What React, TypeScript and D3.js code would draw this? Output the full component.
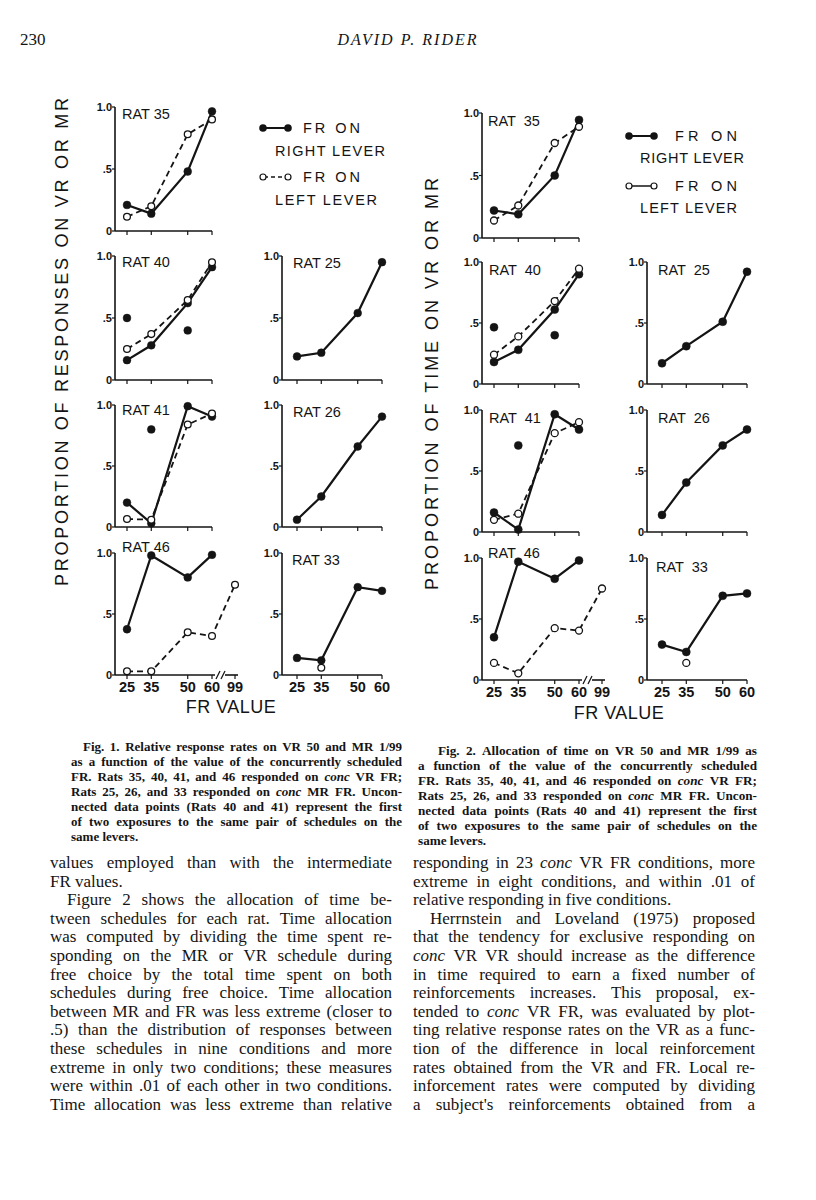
import React from 'react';
import * as d3 from 'd3';

// ---------- DATA ----------
const frValues = [25, 35, 50, 60];
const frValuesMR = [25, 35, 50, 60, 99];
const yTickValues = [0, 0.5, 1.0];
const yTickLabels = ['0', '.5', '1.0'];

// Fig. 1 — proportion of responses on VR or MR
const resp35Right = [0.21, 0.14, 0.48, 0.965];
const resp35Left = [0.115, 0.2, 0.78, 0.9];
const resp40Right = [0.16, 0.28, 0.62, 0.91];
const resp40Left = [0.25, 0.37, 0.645, 0.95];
const resp40FirstX = [25, 50];
const resp40FirstY = [0.5, 0.4];
const resp41Right = [0.2, 0.03, 0.99, 0.905];
const resp41Left = [0.065, 0.06, 0.84, 0.93];
const resp41FirstX = [35];
const resp41FirstY = [0.8];
const resp46Right = [0.375, 0.98, 0.8, 0.985];
const resp46Left = [0.03, 0.03, 0.35, 0.32, 0.74];
const resp25 = [0.19, 0.22, 0.54, 0.95];
const resp26 = [0.06, 0.25, 0.66, 0.905];
const resp33 = [0.14, 0.12, 0.72, 0.69];
const resp33OpenX = [35];
const resp33OpenY = [0.06];

// Fig. 2 — proportion of time on VR or MR
const time35Right = [0.22, 0.19, 0.5, 0.945];
const time35Left = [0.14, 0.26, 0.76, 0.89];
const time40Right = [0.18, 0.28, 0.61, 0.9];
const time40Left = [0.24, 0.39, 0.68, 0.945];
const time40FirstX = [25, 50];
const time40FirstY = [0.465, 0.4];
const time41Right = [0.16, 0.02, 0.965, 0.84];
const time41Left = [0.1, 0.15, 0.81, 0.9];
const time41FirstX = [35];
const time41FirstY = [0.71];
const time46Right = [0.35, 0.97, 0.83, 0.98];
const time46Left = [0.14, 0.055, 0.425, 0.405, 0.75];
const time25 = [0.17, 0.31, 0.51, 0.92];
const time26 = [0.14, 0.405, 0.71, 0.84];
const time33 = [0.29, 0.23, 0.69, 0.71];
const time33OpenX = [35];
const time33OpenY = [0.14];

// ---------- TEXT ----------
const fig1Caption = [
  'Fig. 1. Relative response rates on VR 50 and MR 1/99',
  'as a function of the value of the concurrently scheduled',
  'FR. Rats 35, 40, 41, and 46 responded on *conc* VR FR;',
  'Rats 25, 26, and 33 responded on *conc* MR FR. Uncon-',
  'nected data points (Rats 40 and 41) represent the first',
  'of two exposures to the same pair of schedules on the',
  'same levers.',
];
const fig2Caption = [
  'Fig. 2. Allocation of time on VR 50 and MR 1/99 as',
  'a function of the value of the concurrently scheduled',
  'FR. Rats 35, 40, 41, and 46 responded on *conc* VR FR;',
  'Rats 25, 26, and 33 responded on *conc* MR FR. Uncon-',
  'nected data points (Rats 40 and 41) represent the first',
  'of two exposures to the same pair of schedules on the',
  'same levers.',
];
const bodyLeft = [
  'values employed than with the intermediate',
  'FR values.',
  'Figure 2 shows the allocation of time be-',
  'tween schedules for each rat. Time allocation',
  'was computed by dividing the time spent re-',
  'sponding on the MR or VR schedule during',
  'free choice by the total time spent on both',
  'schedules during free choice. Time allocation',
  'between MR and FR was less extreme (closer to',
  '.5) than the distribution of responses between',
  'these schedules in nine conditions and more',
  'extreme in only two conditions; these measures',
  'were within .01 of each other in two conditions.',
  'Time allocation was less extreme than relative',
];
const bodyLeftIndent = [2];
const bodyLeftLast = [1];
const bodyRight = [
  'responding in 23 *conc* VR FR conditions, more',
  'extreme in eight conditions, and within .01 of',
  'relative responding in five conditions.',
  'Herrnstein and Loveland (1975) proposed',
  'that the tendency for exclusive responding on',
  '*conc* VR VR should increase as the difference',
  'in time required to earn a fixed number of',
  'reinforcements increases. This proposal, ex-',
  'tended to *conc* VR FR, was evaluated by plot-',
  'ting relative response rates on the VR as a func-',
  'tion of the difference in local reinforcement',
  'rates obtained from the VR and FR. Local re-',
  'inforcement rates were computed by dividing',
  "a subject's reinforcements obtained from a",
];
const bodyRightIndent = [3];
const bodyRightLast = [2];

const INK = '#141414';
const SANS = '"Liberation Sans", Arial, sans-serif';
const SERIF = '"Liberation Serif", "Times New Roman", serif';

type Series = { xs: number[]; ys: number[]; filled: boolean; dashed: boolean; connected: boolean };
type PanelDef = {
  x0: number; top: number; bottom: number; off: number; mr: boolean;
  label: string; lx: number; ly: number; tickLabels: boolean; series: Series[]; r: number;
};

const S = (xs: number[], ys: number[], filled: boolean, dashed: boolean, connected = true): Series =>
  ({ xs, ys, filled, dashed, connected });

function Panel({ p }: { p: PanelDef }) {
  const y = d3.scaleLinear().domain([0, 1]).range([p.bottom, p.top]);
  const x = p.mr
    ? d3.scaleLinear().domain([25, 60, 99]).range([p.x0 + p.off, p.x0 + p.off + 85, p.x0 + 120])
    : d3.scaleLinear().domain([25, 60]).range([p.x0 + p.off, p.x0 + p.off + 85]);
  const ticks = p.mr ? frValuesMR : frValues;
  const line = d3.line<[number, number]>().x(d => x(d[0])).y(d => y(d[1]));
  const x60 = x(60);
  return (
    <g>
      <line x1={p.x0} x2={p.x0} y1={y(0)} y2={y(1)} stroke={INK} strokeWidth={1.6} />
      {yTickValues.map((v, i) => (
        <g key={i}>
          <line x1={p.x0 - 3} x2={p.x0} y1={y(v)} y2={y(v)} stroke={INK} strokeWidth={1.2} />
          <text x={p.x0 - 3} y={y(v) + 4} textAnchor="end" fontFamily={SANS} fontSize={11} fontWeight="bold" fill={INK}>{yTickLabels[i]}</text>
        </g>
      ))}
      {p.mr ? (
        <g>
          <line x1={p.x0} x2={x60 + 3} y1={y(0)} y2={y(0)} stroke={INK} strokeWidth={1.6} />
          <line x1={x60 + 4} x2={x60 + 8} y1={y(0) + 4} y2={y(0) - 4} stroke={INK} strokeWidth={1.3} />
          <line x1={x60 + 9} x2={x60 + 13} y1={y(0) + 4} y2={y(0) - 4} stroke={INK} strokeWidth={1.3} />
          <line x1={x60 + 13} x2={x(99) + 3} y1={y(0)} y2={y(0)} stroke={INK} strokeWidth={1.6} />
        </g>
      ) : (
        <line x1={p.x0} x2={x60} y1={y(0)} y2={y(0)} stroke={INK} strokeWidth={1.6} />
      )}
      {ticks.map(t => (
        <line key={t} x1={x(t)} x2={x(t)} y1={y(0)} y2={y(0) + 4} stroke={INK} strokeWidth={1.2} />
      ))}
      {p.tickLabels && ticks.map(t => (
        <text key={'l' + t} x={x(t)} y={y(0) + 17} textAnchor="middle" fontFamily={SANS} fontSize={14.5} fontWeight="bold" fill={INK}>{t}</text>
      ))}
      <text x={p.x0 + p.lx} y={p.top + p.ly + 5} fontFamily={SANS} fontSize={14.5} fill={INK} style={{ whiteSpace: 'pre' }}>{p.label}</text>
      {p.series.filter(s => s.connected).map((s, i) => (
        <path key={'p' + i} d={line(s.xs.map((v, j) => [v, s.ys[j]] as [number, number])) || ''}
          fill="none" stroke={INK} strokeWidth={s.dashed ? 1.8 : 2.2} strokeDasharray={s.dashed ? '6 4' : undefined} />
      ))}
      {p.series.map((s, i) => s.xs.map((v, j) => (
        <circle key={i + '-' + j} cx={x(v)} cy={y(s.ys[j])} r={s.filled ? p.r : p.r - 0.5}
          fill={s.filled ? INK : '#fff'} stroke={INK} strokeWidth={s.filled ? 0.5 : 1.3} />
      )))}
    </g>
  );
}

// ---- justified text via measured word positions ----
let measureCtx: CanvasRenderingContext2D | null = null;
function measureWord(t: string, size: number, weight: string, italic: boolean) {
  if (!measureCtx && typeof document !== 'undefined') {
    measureCtx = document.createElement('canvas').getContext('2d');
  }
  if (!measureCtx) return t.length * size * 0.45;
  measureCtx.font = `${italic ? 'italic ' : ''}${weight} ${size}px "Liberation Serif"`;
  return measureCtx.measureText(t).width;
}

function TextLine({ x, y, width, text, justify, size, weight }:
  { x: number; y: number; width: number; text: string; justify: boolean; size: number; weight: string }) {
  const words = text.split(' ').map(w => {
    const it = w.includes('*');
    return { t: w.replace(/\*/g, ''), it };
  });
  const widths = words.map(w => measureWord(w.t, size, weight, w.it));
  const total = widths.reduce((a, b) => a + b, 0);
  const natSpace = measureWord(' ', size, weight, false);
  const gap = justify && words.length > 1 ? (width - total) / (words.length - 1) : natSpace;
  let cx = x;
  return (
    <text y={y} fontFamily={SERIF} fontSize={size} fontWeight={weight} fill={INK}>
      {words.map((w, i) => {
        const xx = cx;
        cx += widths[i] + gap;
        return <tspan key={i} x={xx} fontStyle={w.it ? 'italic' : 'normal'}>{w.t}</tspan>;
      })}
    </text>
  );
}

function Paragraphs({ lines, x, right, y0, pitch, size, indent, indentRows, lastRows, weight }:
  { lines: string[]; x: number; right: number; y0: number; pitch: number; size: number; indent: number;
    indentRows: number[]; lastRows: number[]; weight?: string }) {
  return (
    <g>
      {lines.map((l, i) => {
        const ind = indentRows.includes(i) ? indent : 0;
        return (
          <TextLine key={i} x={x + ind} y={y0 + i * pitch} width={right - x - ind} text={l}
            justify={!lastRows.includes(i)} size={size} weight={weight || 'normal'} />
        );
      })}
    </g>
  );
}

function Legend({ x, y, dashedOpen, w }: { x: number; y: number; dashedOpen: boolean; w: number[] }) {
  const t = { fontFamily: SANS, fontSize: 14.5, fill: INK } as const;
  return (
    <g>
      <line x1={x} x2={x + 25} y1={y} y2={y} stroke={INK} strokeWidth={2} />
      <circle cx={x} cy={y} r={3.8} fill={INK} />
      <circle cx={x + 25} cy={y} r={3.8} fill={INK} />
      <text x={x + w[0]} y={y + 5} textLength={w[1]} lengthAdjust="spacing" {...t}>FR ON</text>
      <text x={x + w[2]} y={y + 5 + w[4]} textLength={w[3]} lengthAdjust="spacing" {...t}>RIGHT LEVER</text>
      <line x1={x + 1} x2={x + 24} y1={y + w[5]} y2={y + w[5]} stroke={INK} strokeWidth={1.5} strokeDasharray={dashedOpen ? '4 3' : undefined} />
      <circle cx={x} cy={y + w[5]} r={3} fill="#fff" stroke={INK} strokeWidth={1.2} />
      <circle cx={x + 25} cy={y + w[5]} r={3} fill="#fff" stroke={INK} strokeWidth={1.2} />
      <text x={x + w[0]} y={y + 5 + w[5]} textLength={w[1]} lengthAdjust="spacing" {...t}>FR ON</text>
      <text x={x + w[2]} y={y + 5 + w[5] + w[4]} textLength={w[6]} lengthAdjust="spacing" {...t}>LEFT LEVER</text>
    </g>
  );
}

// ---------- LAYOUT ----------
const f1L = 115, f1R = 282;
const f1Top = [107, 256, 405, 553];
const f1Bot = [231, 380, 527, 675];
const f2L = 482, f2R = 647;
const f2Top = [113, 262, 410, 558];
const f2Bot = [238, 384, 532, 680];

const fig1Panels: PanelDef[] = [
  { x0: f1L, top: f1Top[0], bottom: f1Bot[0], off: 12, mr: false, label: 'RAT 35', lx: 7, ly: 7, tickLabels: false, r: 3.9,
    series: [S(frValues, resp35Right, true, false), S(frValues, resp35Left, false, true)] },
  { x0: f1L, top: f1Top[1], bottom: f1Bot[1], off: 12, mr: false, label: 'RAT 40', lx: 7, ly: 6, tickLabels: false, r: 3.9,
    series: [S(frValues, resp40Right, true, false), S(frValues, resp40Left, false, true), S(resp40FirstX, resp40FirstY, true, false, false)] },
  { x0: f1L, top: f1Top[2], bottom: f1Bot[2], off: 12, mr: false, label: 'RAT 41', lx: 7, ly: 5, tickLabels: false, r: 3.9,
    series: [S(frValues, resp41Right, true, false), S(frValues, resp41Left, false, true), S(resp41FirstX, resp41FirstY, true, false, false)] },
  { x0: f1L, top: f1Top[3], bottom: f1Bot[3], off: 12, mr: true, label: 'RAT 46', lx: 7, ly: -6, tickLabels: true, r: 3.9,
    series: [S(frValues, resp46Right, true, false), S(frValuesMR, resp46Left, false, true)] },
  { x0: f1R, top: f1Top[1], bottom: f1Bot[1], off: 15, mr: false, label: 'RAT 25', lx: 11, ly: 7, tickLabels: false, r: 3.9,
    series: [S(frValues, resp25, true, false)] },
  { x0: f1R, top: f1Top[2], bottom: f1Bot[2], off: 15, mr: false, label: 'RAT 26', lx: 11, ly: 7, tickLabels: false, r: 3.9,
    series: [S(frValues, resp26, true, false)] },
  { x0: f1R, top: f1Top[3], bottom: f1Bot[3], off: 15, mr: false, label: 'RAT 33', lx: 10, ly: 7, tickLabels: true, r: 3.9,
    series: [S(frValues, resp33, true, false), S(resp33OpenX, resp33OpenY, false, false, false)] },
];

const fig2Panels: PanelDef[] = [
  { x0: f2L, top: f2Top[0], bottom: f2Bot[0], off: 12, mr: false, label: 'RAT  35', lx: 6, ly: 8, tickLabels: false, r: 4,
    series: [S(frValues, time35Right, true, false), S(frValues, time35Left, false, true)] },
  { x0: f2L, top: f2Top[1], bottom: f2Bot[1], off: 12, mr: false, label: 'RAT  40', lx: 7, ly: 8, tickLabels: false, r: 4,
    series: [S(frValues, time40Right, true, false), S(frValues, time40Left, false, true), S(time40FirstX, time40FirstY, true, false, false)] },
  { x0: f2L, top: f2Top[2], bottom: f2Bot[2], off: 12, mr: false, label: 'RAT  41', lx: 7, ly: 8, tickLabels: false, r: 4,
    series: [S(frValues, time41Right, true, false), S(frValues, time41Left, false, true), S(time41FirstX, time41FirstY, true, false, false)] },
  { x0: f2L, top: f2Top[3], bottom: f2Bot[3], off: 12, mr: true, label: 'RAT  46', lx: 6, ly: -5, tickLabels: true, r: 4,
    series: [S(frValues, time46Right, true, false), S(frValuesMR, time46Left, false, true)] },
  { x0: f2R, top: f2Top[1], bottom: f2Bot[1], off: 15, mr: false, label: 'RAT  25', lx: 11, ly: 8, tickLabels: false, r: 4,
    series: [S(frValues, time25, true, false)] },
  { x0: f2R, top: f2Top[2], bottom: f2Bot[2], off: 15, mr: false, label: 'RAT  26', lx: 11, ly: 8, tickLabels: false, r: 4,
    series: [S(frValues, time26, true, false)] },
  { x0: f2R, top: f2Top[3], bottom: f2Bot[3], off: 15, mr: false, label: 'RAT  33', lx: 9, ly: 9, tickLabels: true, r: 4,
    series: [S(frValues, time33, true, false), S(time33OpenX, time33OpenY, false, false, false)] },
];

export default function App() {
  return (
    <svg width={816} height={1200} style={{ position: 'absolute', left: 0, top: 0, background: '#fff' }}>
      <rect width={816} height={1200} fill="#fff" />
      {/* running head */}
      <text x={20} y={45} fontFamily={SERIF} fontSize={17} fill={INK}>230</text>
      <text x={408} y={45} textAnchor="middle" fontFamily={SERIF} fontSize={16} fontStyle="italic" letterSpacing={2} fill={INK}>DAVID P. RIDER</text>

      {/* Fig 1 */}
      <text transform="translate(68,342) rotate(-90)" textAnchor="middle" fontFamily={SANS} fontSize={18}
        textLength={488} lengthAdjust="spacing" fill={INK}>PROPORTION OF RESPONSES ON VR OR MR</text>
      {fig1Panels.map((p, i) => <Panel key={i} p={p} />)}
      <Legend x={263} y={128} dashedOpen={true} w={[40, 57, 12, 110, 23, 49, 102]} />
      <text x={231} y={713} textAnchor="middle" fontFamily={SANS} fontSize={18} letterSpacing={0.5} fill={INK}>FR VALUE</text>

      {/* Fig 2 */}
      <text transform="translate(438,384) rotate(-90)" textAnchor="middle" fontFamily={SANS} fontSize={18}
        textLength={412} lengthAdjust="spacing" fill={INK}>PROPORTION OF TIME ON VR OR MR</text>
      {fig2Panels.map((p, i) => <Panel key={i} p={p} />)}
      <Legend x={629} y={136} dashedOpen={false} w={[46, 62, 11, 104, 22, 50, 97]} />
      <text x={619} y={719} textAnchor="middle" fontFamily={SANS} fontSize={18} letterSpacing={0.5} fill={INK}>FR VALUE</text>

      {/* captions */}
      <Paragraphs lines={fig1Caption} x={71} right={402} y0={751} pitch={15} size={13} indent={12}
        indentRows={[0]} lastRows={[6]} weight="bold" />
      <Paragraphs lines={fig2Caption} x={418} right={757} y0={755} pitch={15} size={13.2} indent={20}
        indentRows={[0]} lastRows={[6]} weight="bold" />

      {/* body text */}
      <Paragraphs lines={bodyLeft} x={50} right={392} y0={868} pitch={18.6} size={17} indent={17}
        indentRows={bodyLeftIndent} lastRows={bodyLeftLast} />
      <Paragraphs lines={bodyRight} x={413} right={755} y0={868} pitch={18.6} size={17} indent={17}
        indentRows={bodyRightIndent} lastRows={bodyRightLast} />
    </svg>
  );
}
